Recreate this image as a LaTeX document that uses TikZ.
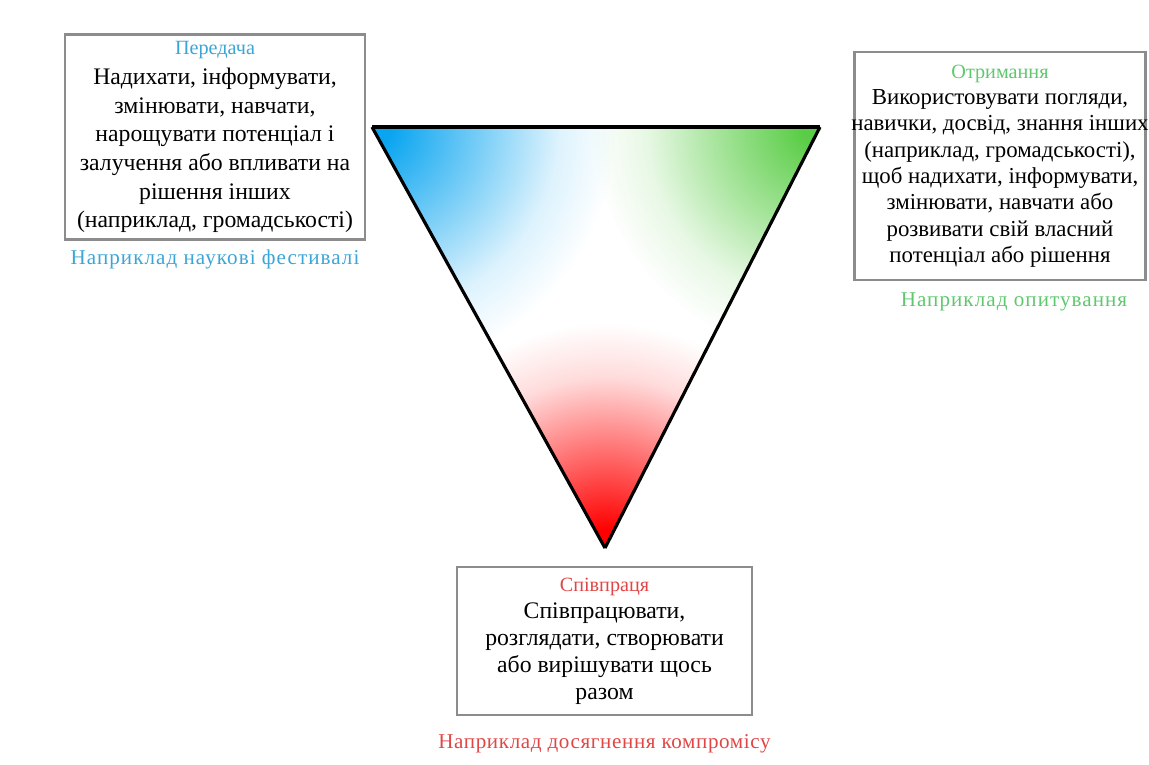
\documentclass[tikz,border=0pt]{standalone}
\usepackage{fontspec}
\setmainfont{Liberation Serif}
\usepackage{tikz}
\usetikzlibrary{positioning}

\definecolor{sendblue}{RGB}{60,165,215}
\definecolor{recvgreen}{RGB}{95,200,110}
\definecolor{collabred}{RGB}{225,70,70}
\definecolor{cornerblue}{RGB}{10,165,240}
\definecolor{cornergreen}{RGB}{90,205,70}
\definecolor{cornerred}{RGB}{255,0,0}

% Corner glows, fading to white
\pgfdeclareradialshading{blueglow}{\pgfpoint{0bp}{0bp}}{color(0bp)=(cornerblue); color(2bp)=(cornerblue); color(11bp)=(cornerblue!55!white); color(19bp)=(cornerblue!14!white); color(25bp)=(white); color(50bp)=(white)}
\pgfdeclareradialshading{greenglow}{\pgfpoint{0bp}{0bp}}{color(0bp)=(cornergreen); color(2bp)=(cornergreen); color(11bp)=(cornergreen!55!white); color(19bp)=(cornergreen!14!white); color(25bp)=(white); color(50bp)=(white)}
\pgfdeclareradialshading{redglow}{\pgfpoint{0bp}{0bp}}{color(0bp)=(cornerred); color(2bp)=(cornerred); color(11bp)=(cornerred!55!white); color(19bp)=(cornerred!14!white); color(25bp)=(white); color(50bp)=(white)}

\begin{document}
\begin{tikzpicture}[
    x=0.02cm, y=-0.02cm,
    node distance=1mm,
    every node/.style={font=\fontsize{13.5}{16.3}\selectfont},
    box/.style={draw=black!45, line width=1.6pt, fill=white, align=center, inner sep=2pt},
    tag/.style={font=\fontsize{12}{14}\selectfont\addfontfeature{LetterSpace=5}},
    edge/.style={line width=1.8pt, line join=miter}
]
\useasboundingbox (0,0) rectangle (1149,764);

% Triangle corners
\coordinate (tl) at (372,127);
\coordinate (tr) at (820,127);
\coordinate (bt) at (605,548);

% Colour fill, shaded from each corner
\begin{scope}
    \clip (tl) -- (tr) -- (bt) -- cycle;
    \fill[white] (tl) -- (tr) -- (bt) -- cycle;
    \begin{scope}[blend mode=multiply]
        \shade[shading=blueglow]  (tl) circle (4.9cm);
        \shade[shading=greenglow] (tr) circle (4.6cm);
        \shade[shading=redglow]   (bt) circle (4.5cm);
    \end{scope}
\end{scope}

% Triangle edges
\draw[edge] (tl) -- (tr);
\draw[edge] (tr) -- (bt);
\draw[edge] (bt) -- (tl);

% Transfer
\node[box, minimum width=6cm, minimum height=4.1cm] (send) at (215,137) {%
    {\color{sendblue}\fontsize{11.5}{14}\selectfont Передача}\\[1pt]
    Надихати, інформувати,\\
    змінювати, навчати,\\
    нарощувати потенціал і\\
    залучення або впливати на\\
    рішення інших\\
    (наприклад, громадськості)};
\node[tag, text=sendblue, below=0.5mm of send] (sendtag) {Наприклад наукові фестивалі};

% Receive
\node[box, font=\fontsize{13}{15}\selectfont, inner xsep=-2pt,
      minimum width=5.72cm, minimum height=4.56cm] (recv) at (1000,166) {%
    {\color{recvgreen}\fontsize{11.5}{14}\selectfont Отримання}\\
    Використовувати погляди,\\
    навички, досвід, знання інших\\
    (наприклад, громадськості),\\
    щоб надихати, інформувати,\\
    змінювати, навчати або\\
    розвивати свій власний\\
    потенціал або рішення};
\node[tag, text=recvgreen, below=1mm of recv, xshift=0.28cm] (recvtag) {Наприклад опитування};

% Collaborate
\node[box, font=\fontsize{13.5}{15.4}\selectfont,
      minimum width=5.9cm, minimum height=2.96cm] (collab) at (604.5,641) {%
    {\color{collabred}\fontsize{11.5}{14}\selectfont Співпраця}\\
    Співпрацювати,\\
    розглядати, створювати\\
    або вирішувати щось\\
    разом};
\node[tag, text=collabred, below=2.3mm of collab,
      font=\fontsize{12}{14}\selectfont\addfontfeature{LetterSpace=3}] (collabtag) {Наприклад досягнення компромісу};
\end{tikzpicture}
\end{document}
